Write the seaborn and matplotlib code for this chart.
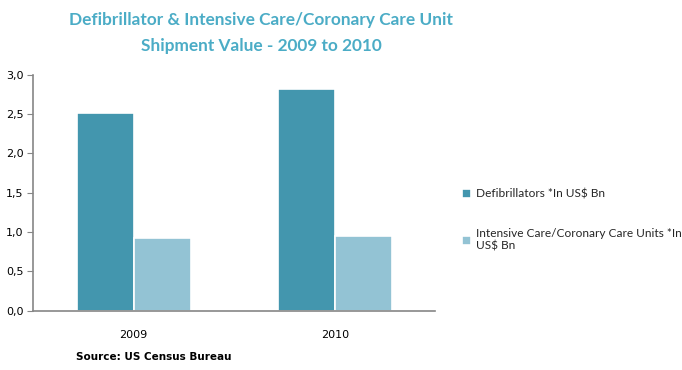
import pandas as pd
import matplotlib
matplotlib.use("Agg")
import matplotlib.pyplot as plt
import seaborn as sns
from matplotlib.ticker import FuncFormatter

years = ["2009", "2010"]
series_names = ["Defibrillators *In US$ Bn",
                "Intensive Care/Coronary Care Units *In\nUS$ Bn"]
defib_values = [2.52, 2.82]
icu_values = [0.93, 0.95]
y_ticks = [0.0, 0.5, 1.0, 1.5, 2.0, 2.5, 3.0]

colors = ["#4396AE", "#93C3D4"]

df = pd.DataFrame({
    "year": years * 2,
    "series": [series_names[0]] * 2 + [series_names[1]] * 2,
    "value": defib_values + icu_values,
})

sns.set_theme(style="white")
plt.rcParams["font.family"] = ["DejaVu Sans"]

fig = plt.figure(figsize=(6.82, 3.70), dpi=100)
ax = fig.add_axes([0.0484, 0.160, 0.590, 0.638])

sns.barplot(data=df, x="year", y="value", hue="series", palette=colors,
            saturation=1, width=0.567, edgecolor="white", linewidth=1.2,
            ax=ax, legend=True)

ax.set_ylim(0, 3.0)
ax.set_yticks(y_ticks)
ax.yaxis.set_major_formatter(FuncFormatter(lambda v, p: f"{v:.1f}".replace(".", ",")))
ax.set_xlabel("")
ax.set_ylabel("")
ax.tick_params(axis="y", left=True, length=4, width=0.8, color="#868686",
               labelsize=8, pad=3, labelcolor="#000000")
ax.tick_params(axis="x", bottom=False, labelsize=8, pad=8, labelcolor="#000000")
for side in ["top", "right"]:
    ax.spines[side].set_visible(False)
for side in ["left", "bottom"]:
    ax.spines[side].set_color("#868686")
    ax.spines[side].set_linewidth(1.2)

handles, labels = ax.get_legend_handles_labels()
ax.legend_.remove()
leg = fig.legend(handles, labels, loc="center left", bbox_to_anchor=(0.661, 0.405),
                 frameon=False, handlelength=0.75, handleheight=0.75,
                 handletextpad=0.45, labelspacing=2.4,
                 prop={"family": ["Lato", "DejaVu Sans"], "size": 8.6})

fig.text(0.383, 0.968, "Defibrillator & Intensive Care/Coronary Care Unit\nShipment Value - 2009 to 2010",
         ha="center", va="top", fontsize=12.4, fontweight="bold", color="#4BACC6",
         family=["Lato", "DejaVu Sans"], linespacing=1.75)

fig.text(0.111, 0.022, "Source: US Census Bureau", ha="left", va="bottom",
         fontsize=7.5, fontweight="bold", color="#000000")

fig.savefig("out.png", dpi=100, facecolor="white")
